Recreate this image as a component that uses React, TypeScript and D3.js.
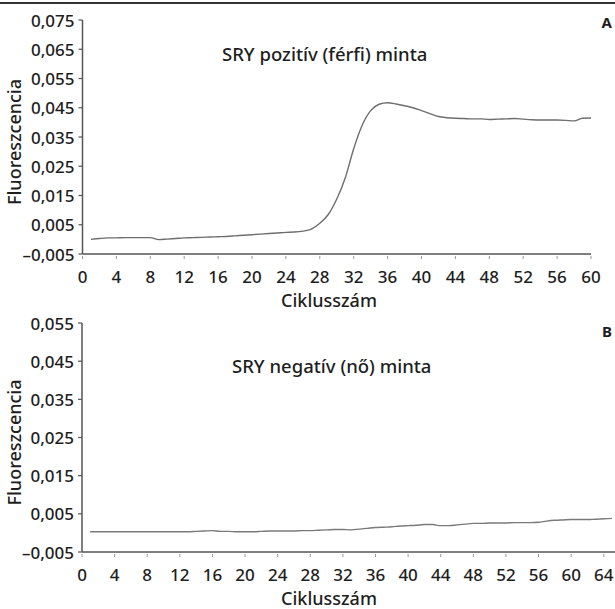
import * as d3 from 'd3';

// cycles 1..60, panel A (SRY positive)
const cyclesA = d3.range(1, 61);
const valuesA = [
  0.0000, 0.0003, 0.0005, 0.0005, 0.0006, 0.0006, 0.0006, 0.0006, -0.0001, 0.0001,
  0.0003, 0.0005, 0.0006, 0.0007, 0.0008, 0.0009, 0.0010, 0.0012, 0.0014, 0.0016,
  0.0018, 0.0020, 0.0022, 0.0024, 0.0025, 0.0028, 0.0035, 0.0055, 0.0085, 0.0138,
  0.0210, 0.0310, 0.0390, 0.0440, 0.0462, 0.0467, 0.0463, 0.0457, 0.0450, 0.0440,
  0.0430, 0.0420, 0.0416, 0.0414, 0.0413, 0.0412, 0.0412, 0.0410, 0.0411, 0.0412,
  0.0413, 0.0411, 0.0409, 0.0408, 0.0408, 0.0408, 0.0407, 0.0405, 0.0414, 0.0415,
];

// cycles 1..65, panel B (SRY negative)
const cyclesB = d3.range(1, 66);
const valuesB = [
  0.0003, 0.0003, 0.0003, 0.0003, 0.0003, 0.0003, 0.0003, 0.0003, 0.0003, 0.0003,
  0.0003, 0.0003, 0.0003, 0.0004, 0.0005, 0.0006, 0.0004, 0.0004, 0.0003, 0.0003,
  0.0003, 0.0004, 0.0005, 0.0005, 0.0005, 0.0005, 0.0006, 0.0006, 0.0007, 0.0008,
  0.0009, 0.0009, 0.0008, 0.0010, 0.0012, 0.0014, 0.0015, 0.0016, 0.0018, 0.0019,
  0.0020, 0.0022, 0.0022, 0.0019, 0.0019, 0.0021, 0.0023, 0.0025, 0.0025, 0.0026,
  0.0026, 0.0026, 0.0027, 0.0027, 0.0027, 0.0028, 0.0031, 0.0033, 0.0034, 0.0035,
  0.0035, 0.0035, 0.0036, 0.0037, 0.0038,
];

const yTicksA = [-0.005, 0.005, 0.015, 0.025, 0.035, 0.045, 0.055, 0.065, 0.075];
const yTicksB = [-0.005, 0.005, 0.015, 0.025, 0.035, 0.045, 0.055];
const xTicksA = d3.range(0, 61, 4);
const xTicksB = d3.range(0, 65, 4);

const titleA = 'SRY pozitív (férfi) minta';
const titleB = 'SRY negatív (nő) minta';
const xLabel = 'Ciklusszám';
const yLabel = 'Fluoreszcencia';

const font = '"Noto Sans", sans-serif';
const ink = '#1e1e1e';
const axisColor = '#555';

const fmt = (v: number) => (v < 0 ? '\u2013' : '') + Math.abs(v).toFixed(3).replace('.', ',');

type PanelProps = {
  cycles: number[];
  values: number[];
  yTicks: number[];
  xTicks: number[];
  xDomain: [number, number];
  x0: number;
  x1: number;
  yTop: number;
  yBottom: number;
  title: string;
  titleX: number;
  titleY: number;
  letter: string;
  letterY: number;
  lineColor: string;
};

const Panel = (p: PanelProps) => {
  const x = d3.scaleLinear().domain(p.xDomain).range([p.x0, p.x1]);
  const y = d3.scaleLinear()
    .domain([p.yTicks[0], p.yTicks[p.yTicks.length - 1]])
    .range([p.yBottom, p.yTop]);

  const line = d3.line<number>()
    .x((_, i) => x(p.cycles[i]))
    .y((d) => y(d))
    .curve(d3.curveMonotoneX);

  return (
    <g fontFamily={font} fill={ink} fontWeight={500}>
      {/* y axis */}
      <line x1={p.x0} x2={p.x0} y1={p.yTop} y2={p.yBottom} stroke={axisColor} strokeWidth={1.5} />
      {p.yTicks.map((t) => (
        <g key={t}>
          <line x1={p.x0 - 4} x2={p.x0} y1={y(t)} y2={y(t)} stroke={axisColor} strokeWidth={1.2} />
          <text x={p.x0 - 8} y={y(t)} textAnchor="end" dominantBaseline="central" fontSize={17}>
            {fmt(t)}
          </text>
        </g>
      ))}
      {/* x axis */}
      <line x1={p.x0} x2={p.x1} y1={p.yBottom} y2={p.yBottom} stroke={axisColor} strokeWidth={1.5} />
      {p.xTicks.map((t) => (
        <g key={t}>
          <line x1={x(t)} x2={x(t)} y1={p.yBottom + 2} y2={p.yBottom + 5} stroke="#999" strokeWidth={1} />
          <text x={x(t)} y={p.yBottom + 29} textAnchor="middle" fontSize={17}>
            {t}
          </text>
        </g>
      ))}
      <text x={329} y={p.yBottom + 53} textAnchor="middle" fontSize={18}>{xLabel}</text>
      <text
        transform={`translate(21, ${(p.yTop + p.yBottom) / 2 + 5}) rotate(-90)`}
        textAnchor="middle"
        fontSize={18}
      >
        {yLabel}
      </text>
      <text x={p.titleX} y={p.titleY} fontSize={18.5}>{p.title}</text>
      <text x={612} y={p.letterY} textAnchor="end" fontSize={15} fontWeight={700}>{p.letter}</text>
      <path d={line(p.values) ?? ''} fill="none" stroke={p.lineColor} strokeWidth={1.4} />
    </g>
  );
};

export default function App() {
  return (
    <svg
      width={615}
      height={609}
      style={{ position: 'absolute', left: 0, top: 0, background: '#fff' }}
    >
      <rect width={615} height={609} fill="#fff" />
      <line x1={0} x2={615} y1={3} y2={3} stroke="#333" strokeWidth={2} />
      <Panel
        cycles={cyclesA}
        values={valuesA}
        yTicks={yTicksA}
        xTicks={xTicksA}
        xDomain={[0, 60]}
        x0={82.5}
        x1={591}
        yTop={20}
        yBottom={254}
        title={titleA}
        titleX={222}
        titleY={61}
        letter="A"
        letterY={28}
        lineColor="#6e6e6e"
      />
      <Panel
        cycles={cyclesB}
        values={valuesB}
        yTicks={yTicksB}
        xTicks={xTicksB}
        xDomain={[0, 65.5]}
        x0={82}
        x1={616}
        yTop={323}
        yBottom={552}
        title={titleB}
        titleX={232}
        titleY={373}
        letter="B"
        letterY={337}
        lineColor="#7a7a7a"
      />
    </svg>
  );
}
